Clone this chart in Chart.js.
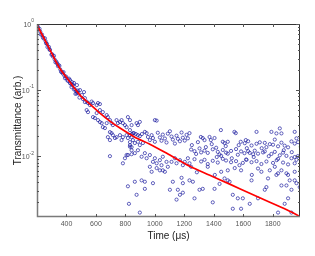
<!DOCTYPE html>
<html>
<head>
<meta charset="utf-8">
<script src="https://cdn.jsdelivr.net/npm/chart.js@4.4.1/dist/chart.umd.min.js"></script>
<style>
  body { margin: 0; background: #fff; }
  canvas { display: block; }
</style>
</head>
<body>
<canvas id="myCanvas" width="315" height="256"></canvas>
<script>
// axis ticks
let xTickValues = [400, 600, 800, 1000, 1200, 1400, 1600, 1800]
let yTickValues = [0.01, 0.1, 1]
let yTickExponents = ["-2", "-1", "0"]

// measured transmittance (blue circles), time in us
let scatterTime = [
  200, 207, 217, 227, 234, 244, 254, 261, 271, 281, 288, 298, 308, 315, 325, 336, 342, 352, 363, 370, 380, 390, 397, 407, 417, 424, 434, 444, 451, 461, 471, 478, 488,
  204, 222, 240, 258, 268, 285, 302, 320, 331, 346, 358, 375, 386, 402, 412, 428, 440, 456, 466, 482,
  424, 437, 451, 471, 469, 492, 505, 512, 519, 525, 525, 537, 546, 559, 571, 580, 605, 614, 627, 537, 546, 580, 593, 605, 614, 627, 639, 627, 647, 673, 681, 647, 661, 673,
  695, 706, 715, 740, 749, 763, 774, 783, 797, 695, 706, 715, 681, 695, 729, 740, 763, 774, 783, 808, 817, 831, 842, 851, 817, 831, 808, 831, 842, 831, 842, 695, 797, 808, 817, 842, 783, 817, 824,
  876, 885, 898, 1000, 1012, 831, 844, 858, 871, 885, 898, 912, 932, 944, 851, 864, 885, 898, 919, 953, 966, 978, 987, 1000,
  1020, 1034, 1045, 1054, 1068, 1079, 1088, 1102, 1113, 1122, 1136, 1147, 1156, 1170, 1181, 1190, 1203, 1215, 1224,
  831, 842, 864, 885, 910, 932, 944, 966, 987, 1000, 1012, 1034, 1045, 1054, 1079, 1088, 1113, 1136, 1147, 1170, 1190, 1203, 1224,
  966, 978, 1012, 1034, 1054, 1068, 864, 910, 932, 876, 932, 987, 1122, 1181, 1190, 1102, 1156, 1170, 1190, 1147, 898,
  1235, 1312, 1325, 1337, 1371, 1380, 1405, 1448, 1461, 1473, 1540, 1549, 1495, 1583, 1617,
  1246, 1269, 1280, 1303, 1314, 1337, 1359, 1393, 1416, 1427, 1439, 1450, 1461, 1483, 1495, 1517, 1551, 1563, 1585, 1608,
  1619, 1597, 1551, 1517, 1483, 1461, 1427, 1393, 1359, 1337, 1314, 1269, 1235,
  1246, 1359, 1450, 1495, 1574, 1585, 1235, 1258, 1269, 1303, 1325, 1405, 1439, 1473, 1495, 1507, 1393, 1529, 1563, 1597, 1529, 1585,
  1690, 1791, 1825, 1848, 1859, 1949, 1961, 1610, 1633, 1656, 1690, 1712, 1746, 1757, 1780, 1802, 1814, 1836, 1859, 1881, 1904, 1927, 1949, 1972,
  1633, 1644, 1667, 1678, 1700, 1734, 1746, 1791, 1814, 1848, 1870, 1893, 1927, 1949, 1961,
  1622, 1656, 1690, 1723, 1757, 1802, 1836, 1870, 1904, 1949, 1700, 1723, 1814, 1859, 1893, 1949,
  1656, 1768, 1825, 1836, 1904, 1949, 1961, 1757, 1746, 1859, 1893, 1927, 1983, 1700, 1904, 1881, 1644, 1836, 1927,
  1251, 1292, 1346, 1386, 1420, 1481, 1522, 1569, 1624, 1671, 1725, 1773, 1827, 1875, 1929, 1970, 1285, 1407, 1542, 1658, 1780, 1915
]
let scatterTrans = [
  0.966, 0.873, 0.846, 0.691, 0.693, 0.605, 0.607, 0.512, 0.448, 0.450, 0.406, 0.343, 0.322, 0.330, 0.263, 0.255, 0.230, 0.233, 0.189, 0.186, 0.187, 0.151, 0.160, 0.139, 0.149, 0.128, 0.111, 0.120, 0.102, 0.0876, 0.093, 0.0986, 0.077,
  0.92, 0.77, 0.63, 0.55, 0.50, 0.41, 0.35, 0.29, 0.27, 0.24, 0.205, 0.178, 0.165, 0.150, 0.138, 0.125, 0.118, 0.104, 0.097, 0.089,
  0.142, 0.132, 0.128, 0.119, 0.0891, 0.100, 0.084, 0.0731, 0.0933, 0.0658, 0.0756, 0.0670, 0.0636, 0.0593, 0.0670, 0.0636, 0.0593, 0.0636, 0.0614, 0.0498, 0.0464, 0.0390, 0.0377, 0.0449, 0.0351, 0.0328, 0.0316, 0.0498, 0.0464, 0.0418, 0.0390, 0.0275, 0.0266, 0.0316,
  0.0351, 0.0316, 0.0295, 0.0351, 0.0316, 0.0328, 0.0351, 0.0316, 0.0295, 0.0231, 0.0223, 0.0208, 0.0194, 0.0175, 0.0188, 0.0194, 0.0208, 0.0175, 0.0194, 0.0208, 0.0188, 0.0163, 0.0194, 0.0223, 0.0390, 0.0351, 0.0275, 0.0248, 0.0295, 0.0147, 0.0137, 0.0100, 0.0093, 0.0104, 0.0104, 0.0107, 0.0078, 0.0035, 0.0019,
  0.0316, 0.0295, 0.0330, 0.0351, 0.0345, 0.0208, 0.0216, 0.0223, 0.0216, 0.0208, 0.0201, 0.0216, 0.0233, 0.0223, 0.0175, 0.0158, 0.0165, 0.0147, 0.0158, 0.0195, 0.0175, 0.0208, 0.0188, 0.0165,
  0.0226, 0.0192, 0.0171, 0.0212, 0.0185, 0.0161, 0.0219, 0.0238, 0.0198, 0.0178, 0.0155, 0.0204, 0.0183, 0.0168, 0.0228, 0.0190, 0.0172, 0.0210, 0.0186,
  0.0139, 0.0123, 0.0111, 0.0123, 0.0098, 0.0111, 0.0093, 0.0104, 0.0082, 0.0093, 0.0078, 0.0087, 0.0073, 0.0098, 0.0082, 0.0069, 0.0082, 0.0093, 0.0078, 0.0087, 0.0073, 0.0082, 0.0093,
  0.0069, 0.0058, 0.0066, 0.0061, 0.0061, 0.0058, 0.0041, 0.0043, 0.0041, 0.0026, 0.0032, 0.0039, 0.0041, 0.0047, 0.0039, 0.0031, 0.0031, 0.0026, 0.0028, 0.0022, 0.0014,
  0.0223, 0.0195, 0.0188, 0.0175, 0.0195, 0.0175, 0.0188, 0.0248, 0.0165, 0.0158, 0.0233, 0.0223, 0.0165, 0.0165, 0.0175,
  0.0126, 0.0119, 0.0108, 0.0131, 0.0114, 0.0121, 0.0112, 0.0127, 0.0134, 0.0116, 0.0106, 0.0101, 0.0124, 0.0113, 0.0109, 0.0120, 0.0128, 0.0105, 0.0118, 0.0111,
  0.0089, 0.0079, 0.0084, 0.0081, 0.0086, 0.0091, 0.0080, 0.0085, 0.0076, 0.0088, 0.0083, 0.0090, 0.0078,
  0.0069, 0.0069, 0.0058, 0.0061, 0.0073, 0.0061, 0.0043, 0.0041, 0.0023, 0.0031, 0.0032, 0.0032, 0.0038, 0.0046, 0.0043, 0.0041, 0.0020, 0.0026, 0.0023, 0.0023, 0.0016, 0.0016,
  0.0233, 0.0233, 0.0221, 0.0263, 0.0221, 0.0233, 0.0186, 0.0157, 0.0168, 0.0145, 0.0154, 0.0162, 0.0159, 0.0137, 0.0152, 0.0149, 0.0178, 0.0141, 0.0160, 0.0144, 0.0136, 0.0167, 0.0155, 0.0163,
  0.0119, 0.0112, 0.0107, 0.0121, 0.0109, 0.0114, 0.0118, 0.0108, 0.0116, 0.0103, 0.0113, 0.0101, 0.0093, 0.0097, 0.0088,
  0.0088, 0.0081, 0.0084, 0.0076, 0.0083, 0.0079, 0.0091, 0.0080, 0.0075, 0.0078, 0.0065, 0.0058, 0.0069, 0.0061, 0.0055, 0.0058,
  0.0043, 0.0046, 0.0052, 0.0055, 0.0052, 0.0043, 0.0039, 0.0034, 0.0031, 0.0036, 0.0036, 0.0031, 0.0034, 0.0023, 0.0023, 0.0019, 0.0019, 0.0014, 0.0014,
  0.0147, 0.0163, 0.0137, 0.0152, 0.0097, 0.0142, 0.0093, 0.0147, 0.0132, 0.0097, 0.0132, 0.0100, 0.0087, 0.0123, 0.0115, 0.0100, 0.0057, 0.0052, 0.0066, 0.0052, 0.0061, 0.0043
]

// fitted curve (red)
let fitTime = [200, 275, 349, 424, 492, 559, 627, 695, 763, 864, 966, 1102, 1237, 1373, 1508, 1644, 1780, 1915, 1983]
let fitTrans = [0.966, 0.464, 0.223, 0.132, 0.084, 0.0613, 0.0449, 0.0339, 0.0266, 0.0194, 0.0152, 0.0104, 0.00705, 0.00515, 0.00377, 0.00275, 0.00201, 0.00147, 0.00123]

// few green markers on the axes edges
let greenTime = [1488, 1567, 1983, 1983, 1983]
let greenTrans = [0.0012, 0.0012, 0.0139, 0.0098, 0.0061]

function toPoints(xs, ys) {
    return xs.map((x, i) => ({ x: x, y: ys[i] }))
}

// box around the plot with inward ticks, like matlab, plus 10^n labels
const framePlugin = {
    id: "frame",
    afterDatasetsDraw(chart) {
        const { ctx, chartArea: a, scales } = chart
        const x = scales.x, y = scales.y
        ctx.save()
        ctx.lineWidth = 1
        ctx.strokeStyle = "#333"
        ctx.beginPath()
        ctx.moveTo(a.left, a.top + 0.5)
        ctx.lineTo(a.right - 0.5, a.top + 0.5)
        ctx.lineTo(a.right - 0.5, a.bottom)
        ctx.stroke()
        ctx.strokeStyle = "#7a7a7a"
        ctx.lineWidth = 1.5
        ctx.beginPath()
        ctx.moveTo(a.left + 0.5, a.top)
        ctx.lineTo(a.left + 0.5, a.bottom - 0.5)
        ctx.lineTo(a.right, a.bottom - 0.5)
        ctx.stroke()

        ctx.lineWidth = 1
        ctx.strokeStyle = "#555"
        ctx.beginPath()
        xTickValues.forEach(v => {
            const px = Math.round(x.getPixelForValue(v)) + 0.5
            ctx.moveTo(px, a.bottom); ctx.lineTo(px, a.bottom - 3)
            ctx.moveTo(px, a.top); ctx.lineTo(px, a.top + 3)
        })
        for (let e = -3; e <= 0; e++) {
            for (let m = 1; m <= 9; m++) {
                const v = m * Math.pow(10, e)
                if (v < y.min || v > y.max) continue
                const py = Math.round(y.getPixelForValue(v)) + 0.5
                const len = m === 1 ? 4 : 2
                ctx.moveTo(a.left, py); ctx.lineTo(a.left + len, py)
                ctx.moveTo(a.right, py); ctx.lineTo(a.right - len, py)
            }
        }
        ctx.stroke()

        // y labels: "10" with a raised exponent
        ctx.fillStyle = "#555"
        ctx.textBaseline = "middle"
        yTickValues.forEach((v, i) => {
            const py = y.getPixelForValue(v)
            const ex = yTickExponents[i]
            ctx.font = "5px 'Liberation Sans'"
            const ew = ctx.measureText(ex).width
            const right = a.left - 3
            ctx.textAlign = "left"
            ctx.fillText(ex, right - ew, py - 3)
            ctx.font = "7px 'Liberation Sans'"
            ctx.textAlign = "right"
            ctx.fillText("10", right - ew, py + 1)
        })
        ctx.restore()
    }
}

new Chart("myCanvas", {
    type: "scatter",
    data: {
        datasets: [
            {
                label: "fit",
                data: toPoints(fitTime, fitTrans),
                showLine: true,
                borderColor: "#ff0000",
                borderWidth: 1.7,
                pointRadius: 0,
                tension: 0.3,
                order: 0
            },
            {
                label: "data",
                data: toPoints(scatterTime, scatterTrans),
                pointStyle: "circle",
                pointRadius: 1.6,
                borderColor: "#2020a0",
                backgroundColor: "rgba(255,255,255,0)",
                borderWidth: 0.7,
                order: 1
            },
            {
                label: "extra",
                data: toPoints(greenTime, greenTrans),
                pointRadius: 1,
                borderWidth: 0,
                backgroundColor: "#33cc33",
                order: 2
            }
        ]
    },
    options: {
        responsive: false,
        animation: false,
        layout: { padding: { top: 24, right: 15, bottom: 0, left: 0 } },
        plugins: { legend: { display: false }, tooltip: { enabled: false } },
        scales: {
            x: {
                type: "linear",
                min: 200,
                max: 1985,
                grid: { display: false, drawTicks: false },
                border: { display: false },
                afterBuildTicks: s => { s.ticks = xTickValues.map(v => ({ value: v })) },
                afterFit: s => { s.height = 39 },
                ticks: {
                    font: { size: 7, family: "Liberation Sans" },
                    color: "#555",
                    padding: 3,
                    maxRotation: 0,
                    callback: v => String(v)
                },
                title: {
                    display: true,
                    text: "Time (\u03BCs)",
                    font: { size: 10, family: "Liberation Sans" },
                    color: "#222",
                    padding: { top: 0, bottom: 14 }
                }
            },
            y: {
                type: "logarithmic",
                min: 0.0012,
                max: 1,
                grid: { display: false, drawTicks: false },
                border: { display: false },
                afterBuildTicks: s => { s.ticks = yTickValues.map(v => ({ value: v, major: true })) },
                afterFit: s => { s.width = 37 },
                ticks: { display: false },
                title: {
                    display: true,
                    text: "Transmittance (arb.)",
                    font: { size: 10, family: "Liberation Sans" },
                    color: "#222",
                    padding: { top: 12, bottom: 0 }
                }
            }
        }
    },
    plugins: [framePlugin]
})
</script>
</body>
</html>
